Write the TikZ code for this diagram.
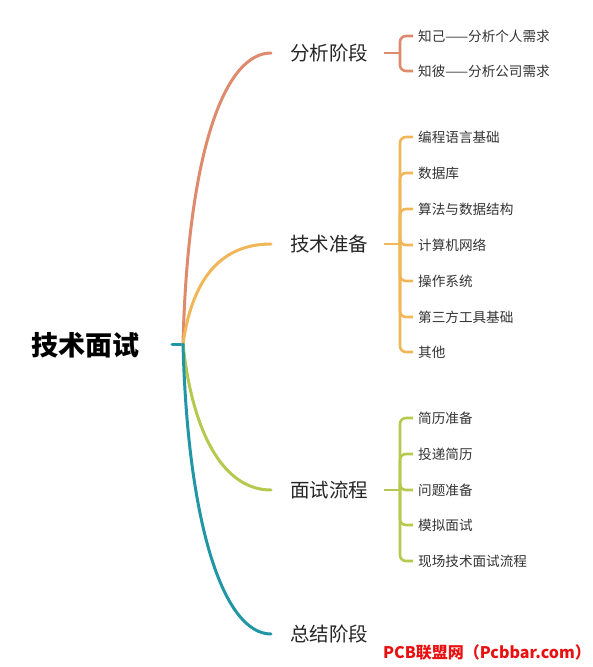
\documentclass[tikz,border=0pt]{standalone}
\usepackage{fontspec}
\setmainfont{Noto Sans CJK SC}
\definecolor{cana}{RGB}{222,138,108}
\definecolor{ctech}{RGB}{240,182,88}
\definecolor{cflow}{RGB}{182,200,78}
\definecolor{csum}{RGB}{32,150,166}
\definecolor{cmark}{RGB}{232,16,16}
\tikzset{
  rootnode/.style={font=\fontsize{27}{30}\selectfont\bfseries, inner sep=0pt},
  topic/.style={font=\fontsize{19.5}{22}\selectfont, anchor=west, inner sep=0pt, text=black!85},
  leaf/.style={font=\fontsize{13.6}{15}\selectfont, anchor=west, inner sep=0pt, text=black!80},
  branch/.style={line width=3pt, line cap=round},
  bracket/.style={line width=2.6pt, rounded corners=6pt, shorten >=5pt},
  wmtext/.style={font=\fontsize{16}{18}\selectfont\bfseries, text=cmark, inner sep=0pt},
}
\begin{document}
\begin{tikzpicture}[x=1pt, y=-1pt]
  \useasboundingbox (0,0) rectangle (593,667);
  \node[rootnode] (root) at (85,345) {技术面试};
  \coordinate (stub) at (172,344);
  \coordinate (hub) at (183,344);
  \draw[branch, csum] (stub) -- (hub);

  \node[topic] (ana) at (290,53) {分析阶段};
  \node[topic] (tech) at (290,244) {技术准备};
  \node[topic] (flow) at (290,490) {面试流程};
  \node[topic] (sum) at (290,634) {总结阶段};
  \draw[branch, cana, shorten >=19pt] (hub) .. controls (188,150) and (225,53) .. (ana.west);
  \draw[branch, ctech, shorten >=19pt] (hub) .. controls (192,280) and (220,244) .. (tech.west);
  \draw[branch, cflow, shorten >=19pt] (hub) .. controls (192,430) and (222,490) .. (flow.west);
  \draw[branch, csum, shorten >=19pt] (hub) .. controls (188,530) and (225,634) .. (sum.west);

  \coordinate (anaj) at (400,53);
  \node[leaf] (ana1) at (418,36) {知己——分析个人需求};
  \node[leaf] (ana2) at (418,71) {知彼——分析公司需求};
  \draw[bracket, cana, shorten >=0pt, shorten <=16pt] (ana.east) -- (anaj);
  \draw[bracket, cana] (anaj) |- (ana1.west);
  \draw[bracket, cana] (anaj) |- (ana2.west);

  \coordinate (techj) at (400,244);
  \node[leaf] (tech1) at (418,137) {编程语言基础};
  \node[leaf] (tech2) at (418,173) {数据库};
  \node[leaf] (tech3) at (418,209) {算法与数据结构};
  \node[leaf] (tech4) at (418,245) {计算机网络};
  \node[leaf] (tech5) at (418,281) {操作系统};
  \node[leaf] (tech6) at (418,317) {第三方工具基础};
  \node[leaf] (tech7) at (418,352) {其他};
  \draw[bracket, ctech, shorten >=0pt, shorten <=16pt] (tech.east) -- (techj);
  \draw[bracket, ctech] (techj) |- (tech1.west);
  \draw[bracket, ctech] (techj) |- (tech2.west);
  \draw[bracket, ctech] (techj) |- (tech3.west);
  \draw[bracket, ctech] (techj) |- (tech4.west);
  \draw[bracket, ctech] (techj) |- (tech5.west);
  \draw[bracket, ctech] (techj) |- (tech6.west);
  \draw[bracket, ctech] (techj) |- (tech7.west);

  \coordinate (flowj) at (400,490);
  \node[leaf] (flow1) at (418,418) {简历准备};
  \node[leaf] (flow2) at (418,454) {投递简历};
  \node[leaf] (flow3) at (418,490) {问题准备};
  \node[leaf] (flow4) at (418,525) {模拟面试};
  \node[leaf] (flow5) at (418,561) {现场技术面试流程};
  \draw[bracket, cflow, shorten >=0pt, shorten <=16pt] (flow.east) -- (flowj);
  \draw[bracket, cflow] (flowj) |- (flow1.west);
  \draw[bracket, cflow] (flowj) |- (flow2.west);
  \draw[bracket, cflow] (flowj) |- (flow3.west);
  \draw[bracket, cflow] (flowj) |- (flow4.west);
  \draw[bracket, cflow] (flowj) |- (flow5.west);

  \node[wmtext, anchor=east] (site) at (591,652) {PCB联盟网（Pcbbar.com）};
\end{tikzpicture}
\end{document}
